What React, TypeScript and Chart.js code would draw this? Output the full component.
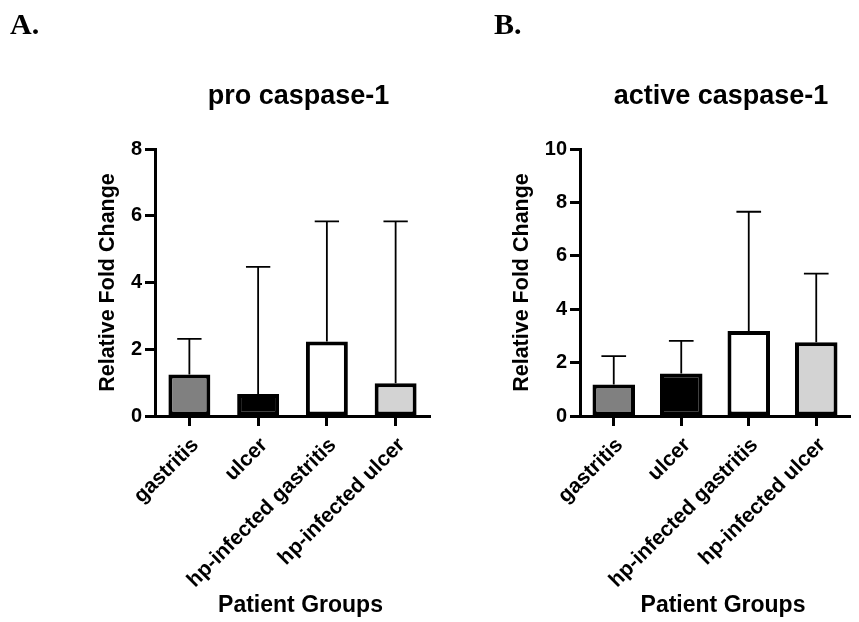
import React, { useEffect, useRef } from "react";
import { Chart, registerables } from "chart.js";

Chart.register(...registerables);

// Patient groups shared by both panels
const categories = ["gastritis", "ulcer", "hp-infected gastritis", "hp-infected ulcer"];
const barColors = ["#808080", "#000000", "#ffffff", "#d3d3d3"];

// Panel A: pro caspase-1 (mean and upper error extent)
const proMeans = [1.24, 0.66, 2.23, 0.98];
const proErrors = [1.07, 3.81, 3.6, 4.85];
const proMax = 8;

// Panel B: active caspase-1
const activeMeans = [1.18, 1.59, 3.18, 2.76];
const activeErrors = [1.06, 1.22, 4.47, 2.57];
const activeMax = 10;

const tickStep = 2;
const xAxisTitle = "Patient Groups";
const yAxisTitle = "Relative Fold Change";
const FONT = "'Liberation Sans', Arial, Helvetica, sans-serif";

// Draws upward-only error bars (line + cap) behind the bars
const errorBarPlugin = {
  id: "errorBars",
  beforeDatasetsDraw(chart: any, _args: any, opts: any) {
    const errs: number[] = opts.errors || [];
    const meta = chart.getDatasetMeta(0);
    const yScale = chart.scales.y;
    const data = chart.data.datasets[0].data as number[];
    const ctx = chart.ctx;
    ctx.save();
    ctx.strokeStyle = "#000";
    ctx.lineWidth = 1.8;
    meta.data.forEach((bar: any, i: number) => {
      const yBase = yScale.getPixelForValue(data[i]);
      const yTop = yScale.getPixelForValue(data[i] + errs[i]);
      const half = bar.width * 0.29;
      ctx.beginPath();
      ctx.moveTo(bar.x, yBase);
      ctx.lineTo(bar.x, yTop);
      ctx.moveTo(bar.x - half, yTop);
      ctx.lineTo(bar.x + half, yTop);
      ctx.stroke();
    });
    ctx.restore();
  },
};

// Panel heading and x-axis title, centred a little right of the plot area
const panelTextPlugin = {
  id: "panelText",
  afterDraw(chart: any, _args: any, opts: any) {
    const { ctx, chartArea } = chart;
    const cx = (chartArea.left + chartArea.right) / 2;
    ctx.save();
    ctx.fillStyle = "#000";
    ctx.textAlign = "center";
    ctx.textBaseline = "alphabetic";
    ctx.font = `bold 27px ${FONT}`;
    ctx.fillText(opts.title, cx + opts.shift, opts.titleBaseline);
    ctx.font = `bold 23px ${FONT}`;
    ctx.fillText(opts.xTitle, cx + opts.shift + 2, opts.xTitleBaseline);
    ctx.restore();
  },
};

type PanelProps = {
  left: number;
  width: number;
  title: string;
  means: number[];
  errors: number[];
  max: number;
  padLeft: number;
  yWidth: number;
  barPct: number;
};

function Panel({ left, width, title, means, errors, max, padLeft, yWidth, barPct }: PanelProps) {
  const ref = useRef<HTMLCanvasElement | null>(null);
  useEffect(() => {
    if (!ref.current) return;
    const chart = new Chart(ref.current, {
      type: "bar",
      data: {
        labels: categories,
        datasets: [
          {
            data: means,
            backgroundColor: barColors,
            borderColor: "#000",
            borderWidth: 4,
            borderSkipped: false,
            categoryPercentage: 1,
            barPercentage: barPct,
          },
        ],
      },
      plugins: [errorBarPlugin, panelTextPlugin],
      options: {
        animation: false,
        responsive: false,
        devicePixelRatio: 1,
        layout: { padding: { left: padLeft, right: 20, top: 149, bottom: 0 } },
        plugins: {
          legend: { display: false },
          tooltip: { enabled: false },
          title: { display: false },
          errorBars: { errors },
          panelText: {
            title,
            xTitle: xAxisTitle,
            shift: 6,
            titleBaseline: 104,
            xTitleBaseline: 612,
          },
        } as any,
        scales: {
          x: {
            type: "category",
            offset: true,
            border: { display: true, color: "#000", width: 3 },
            grid: {
              display: true,
              offset: false,
              drawOnChartArea: false,
              drawTicks: true,
              tickLength: 10,
              tickWidth: 3,
              tickColor: "#000",
            },
            ticks: {
              color: "#000",
              font: { family: FONT, size: 21, weight: "bold" },
              minRotation: 45,
              maxRotation: 45,
              padding: 7,
              labelOffset: 6,
              autoSkip: false,
            },
            afterFit(scale: any) {
              scale.height = 206;
              scale.paddingLeft = 0;
              scale.paddingRight = 0;
            },
          },
          y: {
            min: 0,
            max,
            border: { display: true, color: "#000", width: 3 },
            grid: {
              display: true,
              drawOnChartArea: false,
              drawTicks: true,
              tickLength: 10,
              tickWidth: 3,
              tickColor: "#000",
            },
            ticks: {
              stepSize: tickStep,
              color: "#000",
              font: { family: FONT, size: 20, weight: "bold" },
              padding: 3,
            },
            title: {
              display: true,
              text: yAxisTitle,
              color: "#000",
              font: { family: FONT, size: 21.5, weight: "bold" },
              padding: { top: 0, bottom: 0 },
            },
            afterFit(scale: any) {
              scale.width = yWidth;
              scale.paddingTop = 0;
              scale.paddingBottom = 0;
            },
          },
        },
      },
    });
    return () => chart.destroy();
  }, []);
  return (
    <canvas
      ref={ref}
      width={width}
      height={622}
      style={{ position: "absolute", left, top: 0, width, height: 622 }}
    />
  );
}

const letterStyle: React.CSSProperties = {
  position: "absolute",
  top: 7,
  fontFamily: "'Liberation Serif', 'Times New Roman', serif",
  fontWeight: "bold",
  fontSize: 30,
  color: "#000",
};

export default function App() {
  return (
    <div
      style={{
        position: "absolute",
        left: 0,
        top: 0,
        width: 859,
        height: 622,
        background: "#fff",
        overflow: "hidden",
      }}
    >
      <Panel left={0} width={450} title="pro caspase-1" means={proMeans} errors={proErrors} max={proMax} padLeft={95} yWidth={60} barPct={0.61} />
      <Panel left={430} width={440} title="active caspase-1" means={activeMeans} errors={activeErrors} max={activeMax} padLeft={79} yWidth={71} barPct={0.63} />
      <div style={{ ...letterStyle, left: 10 }}>A.</div>
      <div style={{ ...letterStyle, left: 494 }}>B.</div>
    </div>
  );
}
